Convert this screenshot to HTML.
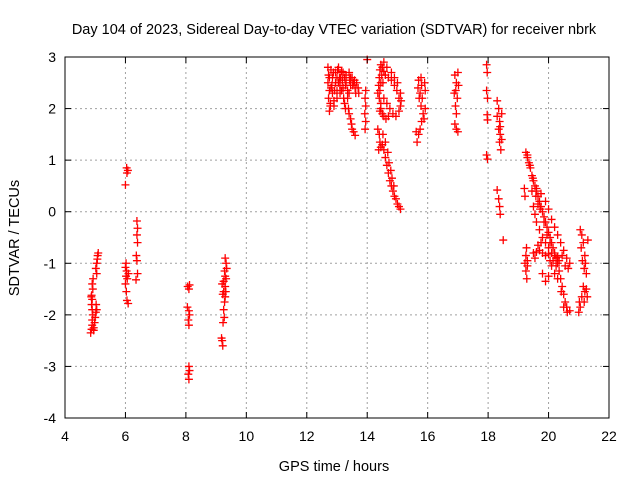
<!DOCTYPE html>
<html><head><meta charset="utf-8"><style>
body{margin:0;background:#fff}
svg{display:block;font-family:"Liberation Sans",sans-serif}
</style></head><body>
<svg id="chart" width="640" height="480">
<text x="334" y="34" font-size="14.5" text-anchor="middle">Day 104 of 2023, Sidereal Day-to-day VTEC variation (SDTVAR) for receiver nbrk</text>
<text x="334" y="471" font-size="14.5" text-anchor="middle">GPS time / hours</text>
<text transform="translate(19,238) rotate(-90)" font-size="14.5" text-anchor="middle">SDTVAR / TECUs</text>
<g id="grid"></g><g id="marks"></g><g id="axes"></g>
</svg>
<script>
const xTicks=[4,6,8,10,12,14,16,18,20,22];
const yTicks=[-4,-3,-2,-1,0,1,2,3];
const clusterA=[[4.85,-2.35],[4.88,-2.28],[4.9,-2.2],[4.9,-2.1],[4.92,-2.0],[4.9,-1.9],[4.88,-1.8],[4.9,-1.7],[4.88,-1.62],[4.92,-1.5],[4.9,-1.4],[4.93,-1.3],[4.95,-2.25],[4.98,-2.15],[5.0,-2.05],[5.02,-1.95],[5.05,-1.9],[5.03,-1.8],[5.05,-1.2],[5.02,-1.1],[5.05,-1.0],[5.07,-0.92],[5.08,-0.85],[5.1,-0.8],[4.87,-1.65],[4.95,-2.3]];
const clusterB=[[6.0,0.52],[6.04,0.85],[6.08,0.8],[6.05,0.75],[6.02,-1.0],[6.0,-1.08],[6.04,-1.15],[6.02,-1.25],[6.06,-1.3],[6.0,-1.4],[6.03,-1.55],[6.05,-1.72],[6.09,-1.78],[6.1,-1.2],[6.38,-0.18],[6.4,-0.32],[6.38,-0.45],[6.4,-0.6],[6.36,-0.85],[6.38,-0.95],[6.4,-1.2],[6.35,-1.32]];
const clusterC=[[8.06,-1.45],[8.12,-1.42],[8.1,-1.5],[8.05,-1.85],[8.1,-1.92],[8.12,-2.0],[8.08,-2.1],[8.1,-2.2],[8.1,-3.0],[8.12,-3.08],[8.08,-3.15],[8.1,-3.25],[9.3,-0.9],[9.33,-1.0],[9.28,-1.15],[9.3,-1.25],[9.25,-1.35],[9.3,-1.45],[9.25,-1.55],[9.3,-1.65],[9.28,-1.75],[9.25,-1.9],[9.27,-2.05],[9.23,-2.15],[9.2,-2.5],[9.22,-2.6],[9.18,-2.45],[9.35,-1.1],[9.33,-1.3],[9.32,-1.55],[9.2,-1.4],[9.22,-1.6]];
const clusterD=[[12.7,2.8],[12.72,2.65],[12.7,2.5],[12.75,2.35],[12.72,2.2],[12.78,2.1],[12.8,2.75],[12.85,2.6],[12.83,2.45],[12.85,2.3],[12.9,2.15],[12.9,2.05],[12.95,2.7],[12.95,2.5],[13.0,2.35],[13.0,2.2],[13.05,2.8],[13.08,2.6],[13.1,2.45],[13.1,2.3],[13.15,2.72],[13.18,2.55],[13.2,2.4],[13.22,2.2],[13.25,2.1],[13.28,2.0],[13.3,2.65],[13.3,2.5],[13.35,2.35],[13.35,2.2],[13.38,2.0],[13.4,1.9],[13.45,1.8],[13.48,1.7],[13.5,1.6],[13.55,1.55],[13.6,1.48],[13.42,2.55],[13.45,2.45],[13.5,2.6],[13.55,2.5],[13.6,2.4],[13.62,2.3],[13.7,2.4],[13.72,2.3],[13.95,2.35],[13.93,2.2],[13.95,2.05],[13.92,1.9],[13.95,1.75],[13.93,1.6],[14.0,2.95],[12.75,2.6],[12.8,2.4],[12.88,2.7],[12.92,2.35],[13.0,2.6],[13.02,2.75],[13.05,2.5],[13.12,2.6],[13.15,2.35],[13.25,2.6],[13.28,2.45],[13.4,2.7],[13.45,2.6],[13.52,2.45],[13.58,2.55],[13.65,2.5],[12.75,1.95],[12.78,2.05],[13.2,2.7],[13.4,2.3]];
const clusterE=[[14.35,2.3],[14.38,2.45],[14.4,2.6],[14.42,2.75],[14.45,2.85],[14.5,2.8],[14.55,2.72],[14.6,2.65],[14.7,2.6],[14.8,2.55],[14.9,2.45],[14.98,2.35],[15.05,2.2],[15.1,2.05],[15.05,1.95],[14.95,1.85],[14.85,1.9],[14.75,2.0],[14.65,2.1],[14.55,2.2],[14.45,2.1],[14.42,1.95],[14.4,1.5],[14.42,1.35],[14.45,1.25],[14.5,1.3],[14.55,1.2],[14.6,1.05],[14.65,0.9],[14.7,0.75],[14.75,0.6],[14.8,0.5],[14.85,0.4],[14.9,0.3],[14.95,0.25],[15.0,0.15],[15.05,0.1],[15.1,0.05],[14.4,2.2],[14.45,2.0],[14.5,1.9],[14.55,1.85],[14.62,1.8],[14.7,1.85],[14.45,2.5],[14.48,2.65],[14.52,2.5],[14.42,2.35],[15.1,2.3],[15.12,2.15],[15.0,2.5],[14.9,2.6],[14.8,2.7],[14.65,2.8],[14.55,2.9],[14.35,1.6],[14.38,1.2],[14.52,1.5],[14.6,1.35],[14.68,1.15],[14.72,0.95],[14.78,0.8],[14.82,0.65],[14.88,0.5],[15.78,2.6],[15.8,2.45],[15.75,2.3],[15.82,2.2],[15.78,2.05],[15.85,1.9],[15.8,1.75],[15.75,1.6],[15.7,1.5],[15.65,1.35],[15.9,2.5],[15.92,2.35],[15.7,2.55],[15.68,2.4],[15.72,2.2],[15.88,1.8],[15.92,2.0],[15.62,1.55],[16.9,2.65],[16.95,2.5],[16.93,2.35],[16.98,2.2],[16.92,2.05],[16.95,1.9],[16.9,1.7],[16.95,1.6],[17.0,1.55],[17.02,2.45],[16.88,2.3],[17.0,2.7]];
const clusterF=[[17.95,2.85],[17.97,2.7],[17.95,2.35],[17.98,2.2],[17.97,1.88],[17.98,1.78],[17.95,1.1],[17.98,1.02],[18.3,2.15],[18.35,2.0],[18.3,1.85],[18.38,1.75],[18.35,1.6],[18.4,1.5],[18.38,1.35],[18.42,1.2],[18.3,0.42],[18.35,0.25],[18.38,0.1],[18.4,-0.05],[18.5,-0.55],[18.45,1.9],[18.4,1.65],[18.45,1.4]];
const clusterG=[[19.25,1.15],[19.3,1.05],[19.35,0.95],[19.4,0.85],[19.45,0.7],[19.5,0.6],[19.55,0.5],[19.6,0.4],[19.65,0.3],[19.7,0.2],[19.75,0.1],[19.8,0.0],[19.85,-0.1],[19.9,-0.2],[19.95,-0.3],[20.0,-0.4],[20.05,-0.5],[20.1,-0.6],[20.15,-0.7],[20.2,-0.8],[20.25,-0.9],[20.3,-1.0],[20.35,-1.15],[20.4,-1.3],[20.45,-1.45],[20.5,-1.6],[20.55,-1.75],[20.6,-1.85],[20.7,-1.92],[19.5,0.1],[19.55,-0.05],[19.6,-0.2],[19.7,-0.35],[19.8,-0.5],[19.9,-0.6],[20.0,-0.7],[19.45,0.4],[19.6,0.45],[19.75,0.35],[19.9,0.2],[20.0,0.05],[20.1,-0.15],[20.2,-0.3],[20.3,-0.45],[20.4,-0.6],[20.5,-0.75],[20.6,-0.9],[20.7,-1.0],[19.5,-0.8],[19.6,-0.78],[19.7,-0.75],[19.8,-0.8],[19.9,-0.85],[20.0,-0.82],[20.1,-0.8],[20.2,-0.85],[20.3,-0.88],[19.8,-1.2],[19.9,-1.35],[20.0,-1.25],[20.1,-1.05],[19.2,0.45],[19.22,0.3],[19.25,-0.85],[19.22,-1.0],[19.25,-1.15],[19.28,-1.3],[19.3,-0.95],[21.05,-0.35],[21.1,-0.45],[21.15,-0.6],[21.08,-0.7],[21.2,-0.85],[21.12,-0.95],[21.18,-1.1],[21.25,-1.2],[21.3,-0.55],[21.15,-1.45],[21.2,-1.55],[21.1,-1.65],[21.18,-1.75],[21.05,-1.85],[21.0,-1.95],[21.25,-1.5],[19.3,1.1],[19.38,0.9],[19.48,0.65],[19.58,0.3],[19.65,0.15],[19.72,0.05],[19.85,-0.2],[19.95,-0.45],[20.05,-0.6],[20.15,-0.95],[20.25,-1.05],[20.35,-0.95],[20.45,-0.85],[20.55,-1.05],[20.65,-1.1],[19.55,-0.9],[19.65,-0.65],[19.75,-0.6],[20.05,-0.95],[20.2,-1.2],[20.3,-1.3],[20.42,-1.55],[20.5,-1.85],[20.62,-1.95],[19.3,-1.05],[19.27,-0.7],[21.22,-1.0],[21.02,-1.75],[21.28,-1.65]];
const allClusters=[clusterA,clusterB,clusterC,clusterD,clusterE,clusterF,clusterG];
const L=65,R=609,T=57,B=418;
const xS=t=>L+(t-4)/18*(R-L);
const yS=v=>B-(v+4)/7*(B-T);
const NS='http://www.w3.org/2000/svg';
function mk(tag,attrs,parent){const e=document.createElementNS(NS,tag);for(const k in attrs)e.setAttribute(k,attrs[k]);parent.appendChild(e);return e;}
const grid=document.getElementById('grid'),axes=document.getElementById('axes'),marks=document.getElementById('marks');
xTicks.forEach(t=>{const x=xS(t);
 if(t>4&&t<22){const g=mk('line',{x1:x,x2:x,y1:T,y2:B,stroke:'#a0a0a0','stroke-dasharray':'2,3'},grid);
 
 }
 mk('line',{x1:x,x2:x,y1:B,y2:B-6,stroke:'#000'},axes);mk('line',{x1:x,x2:x,y1:T,y2:T+6,stroke:'#000'},axes);
 const lb=mk('text',{x:x,y:B+23,'font-size':14,'text-anchor':'middle'},axes);lb.textContent=t;
 
 });
yTicks.forEach(v=>{const y=yS(v);
 if(v>-4&&v<3){const g=mk('line',{x1:L,x2:R,y1:y,y2:y,stroke:'#a0a0a0','stroke-dasharray':'2,3'},grid);
 
 }
 mk('line',{x1:L,x2:L+6,y1:y,y2:y,stroke:'#000'},axes);mk('line',{x1:R,x2:R-6,y1:y,y2:y,stroke:'#000'},axes);
 const lb=mk('text',{x:L-9,y:y+5,'font-size':14,'text-anchor':'end'},axes);lb.textContent=v;
 
 });
const fr=mk('rect',{x:L,y:T,width:R-L,height:B-T,fill:'none',stroke:'#000'},axes);


allClusters.forEach(c=>c.forEach(p=>{const x=xS(p[0]),y=yS(p[1]);
 const m=mk('path',{d:`M${x-4},${y}H${x+4}M${x},${y-4}V${y+4}`,stroke:'#f00','stroke-width':1.3,fill:'none'},marks);
 
 }));
</script>
</body></html>
